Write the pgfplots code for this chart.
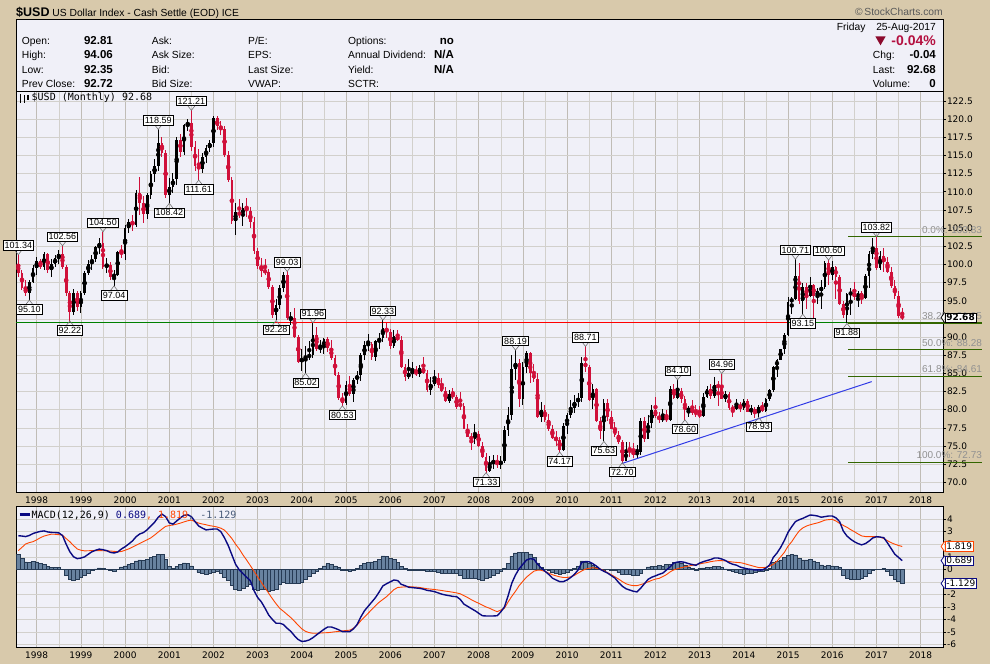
\documentclass[border=0pt]{standalone}
\usepackage{pgfplots}
\pgfplotsset{compat=1.18}
\usepackage{pgfplotstable}
\usepackage{fontspec}
\setmainfont{Liberation Sans}
\newfontfamily\dvs{DejaVu Sans}
\newfontfamily\mono{DejaVu Sans Mono}
\definecolor{tanbg}{RGB}{216,201,171}
\definecolor{plotbg}{RGB}{240,240,248}
\definecolor{gridc}{RGB}{210,208,204}
\definecolor{gridy}{RGB}{192,188,182}
\definecolor{cred}{RGB}{208,16,58}
\definecolor{dcrim}{RGB}{140,10,45}
\definecolor{pcrim}{RGB}{180,16,64}
\definecolor{fibg}{RGB}{51,102,0}
\definecolor{hgreen}{RGB}{0,128,0}
\definecolor{macdc}{RGB}{10,10,130}
\definecolor{sigc}{RGB}{255,69,0}
\definecolor{histf}{RGB}{104,130,160}
\definecolor{histd}{RGB}{38,58,84}
\definecolor{tline}{RGB}{50,60,230}
\definecolor{fibtext}{RGB}{145,145,145}
\definecolor{legslate}{RGB}{70,90,120}

\pgfplotstableread{
i o h l c m s
0 100.1 101.34 98.3 98.8 2.68 1.49
1 98.8 99.3 96.5 96.8 2.65 1.75
2 96.8 97.8 95.6 96.0 2.61 2.02
3 96.0 97.9 95.10 97.6 2.70 2.13
4 97.6 99.9 97.4 99.5 2.85 2.20
5 99.5 101.0 98.6 100.5 2.95 2.35
6 100.5 100.7 99.3 99.7 3.02 2.52
7 99.7 101.7 99.2 101.4 3.06 2.65
8 101.4 101.6 98.8 99.2 2.98 2.73
9 99.2 100.8 98.2 100.0 2.94 2.80
10 100.0 101.3 99.6 100.9 2.93 2.79
11 100.9 102.0 100.0 101.4 2.90 2.76
12 101.4 102.56 99.4 99.7 2.70 2.72
13 99.7 99.9 95.6 96.0 2.00 2.45
14 96.0 96.3 92.22 93.5 1.40 2.20
15 93.5 96.6 93.0 96.1 1.00 1.90
16 96.1 96.4 93.6 94.2 0.85 1.62
17 94.2 96.3 93.3 96.0 0.90 1.52
18 96.0 99.1 95.8 98.8 0.99 1.47
19 98.8 100.6 98.5 100.1 1.20 1.48
20 100.1 101.3 99.3 100.8 1.40 1.49
21 100.8 102.6 100.4 102.4 1.52 1.49
22 102.4 103.6 101.4 102.9 1.61 1.49
23 102.9 104.50 99.4 99.7 1.56 1.48
24 99.7 100.9 98.8 99.9 1.49 1.47
25 99.9 100.3 97.8 98.3 1.35 1.46
26 98.3 99.2 97.04 98.6 1.30 1.43
27 98.6 101.9 98.4 101.7 1.38 1.40
28 101.7 102.7 100.9 101.5 1.62 1.42
29 101.5 105.4 100.6 105.0 1.80 1.52
30 105.0 106.3 104.3 105.9 2.02 1.63
31 105.9 106.8 104.6 105.4 2.26 1.77
32 105.4 110.2 105.2 109.9 2.60 1.92
33 109.9 112.1 106.8 108.4 2.82 2.07
34 108.4 109.4 105.7 106.9 2.93 2.21
35 106.9 109.8 106.2 109.5 3.15 2.36
36 109.5 112.8 109.0 112.5 3.45 2.51
37 112.5 114.5 111.4 113.5 3.75 2.73
38 113.5 118.59 112.9 116.7 4.15 2.97
39 116.7 117.6 114.8 115.3 4.40 3.20
40 115.3 115.8 109.2 109.6 4.20 3.42
41 109.6 111.9 108.42 110.6 3.70 3.49
42 110.6 112.6 109.9 111.8 3.60 3.53
43 111.8 117.5 110.9 117.1 3.85 3.60
44 117.1 117.9 114.8 115.5 4.10 3.68
45 115.5 119.4 115.0 119.2 4.30 3.78
46 119.2 120.0 118.4 119.5 4.35 3.87
47 119.5 121.21 115.6 116.2 4.20 3.92
48 116.2 117.0 112.9 113.5 3.80 3.80
49 113.5 115.9 111.61 113.2 3.45 3.68
50 113.2 115.3 112.6 114.8 3.28 3.61
51 114.8 116.5 114.0 116.0 3.14 3.55
52 116.0 117.2 115.5 116.7 3.18 3.48
53 116.7 120.5 116.2 120.1 3.21 3.43
54 120.1 120.4 118.5 119.0 3.21 3.37
55 119.0 119.7 117.8 118.7 3.00 3.28
56 118.7 119.0 114.8 115.1 2.50 3.12
57 115.1 115.6 111.3 111.6 1.90 2.80
58 111.6 112.0 105.5 106.0 1.15 2.45
59 106.0 108.5 104.0 107.2 0.40 2.00
60 107.2 109.0 106.4 106.8 -0.05 1.62
61 106.8 108.4 105.3 107.8 -0.35 1.15
62 107.8 109.1 106.5 107.4 -0.64 0.74
63 107.4 107.9 105.0 105.8 -0.90 0.30
64 105.8 106.5 101.4 101.9 -1.70 -0.15
65 101.9 102.3 99.4 99.8 -2.25 -0.60
66 99.8 100.9 98.3 99.1 -2.60 -1.05
67 99.1 100.8 98.5 99.0 -3.10 -1.48
68 99.0 99.4 96.6 96.9 -3.65 -1.92
69 96.9 97.2 92.6 93.0 -4.00 -2.35
70 93.0 95.2 92.28 94.4 -4.30 -2.75
71 94.4 97.2 93.8 96.7 -4.30 -3.11
72 96.7 98.9 96.2 98.6 -4.40 -3.35
73 98.6 99.03 92.3 92.6 -4.70 -3.60
74 92.4 93.5 91.7 92.6 -4.95 -3.85
75 92.6 94.0 89.9 90.0 -5.30 -4.15
76 90.0 90.3 86.4 86.6 -5.60 -4.45
77 86.6 88.3 85.3 87.1 -5.75 -4.75
78 87.1 88.8 85.02 87.3 -5.72 -4.95
79 87.3 89.5 86.9 87.5 -5.63 -5.05
80 87.5 91.96 87.1 90.3 -5.45 -5.10
81 90.3 91.4 88.1 88.4 -5.22 -5.10
82 88.4 89.6 87.8 88.6 -5.00 -5.08
83 88.6 89.9 87.6 89.7 -4.78 -5.06
84 89.7 90.0 87.9 88.5 -4.60 -5.05
85 88.5 89.6 86.9 87.1 -4.60 -5.02
86 87.1 87.5 84.6 84.8 -4.70 -4.98
87 84.8 85.2 81.3 81.6 -4.82 -4.95
88 81.6 82.3 80.53 80.9 -4.97 -4.91
89 80.9 83.9 80.6 83.4 -4.97 -4.88
90 83.4 84.6 81.9 82.2 -4.97 -4.85
91 82.2 84.4 81.0 84.1 -4.75 -4.70
92 84.1 85.3 83.5 84.8 -4.40 -4.45
93 84.8 87.8 84.0 87.5 -3.80 -4.10
94 87.5 89.4 86.9 88.9 -3.30 -3.80
95 88.9 90.4 88.1 89.1 -2.95 -3.50
96 89.1 89.3 86.8 87.3 -2.60 -3.20
97 87.3 89.6 86.7 89.4 -2.25 -2.90
98 89.4 90.6 88.4 89.8 -1.80 -2.62
99 89.8 92.33 89.3 91.3 -1.32 -2.40
100 91.3 92.0 89.8 90.7 -1.15 -2.18
101 90.7 91.1 88.4 88.7 -1.00 -1.90
102 88.7 91.0 88.5 90.1 -0.85 -1.62
103 90.1 91.0 89.4 89.6 -0.90 -1.45
104 89.6 90.1 85.8 85.9 -1.20 -1.42
105 85.9 86.3 84.0 84.5 -1.30 -1.40
106 84.5 87.0 84.2 85.0 -1.43 -1.38
107 85.0 86.5 84.4 85.3 -1.46 -1.40
108 85.3 86.0 84.6 84.9 -1.49 -1.42
109 84.9 86.1 84.5 85.7 -1.52 -1.45
110 85.7 87.2 84.9 85.1 -1.58 -1.50
111 85.1 85.5 82.5 82.7 -1.68 -1.55
112 82.7 84.5 82.0 83.6 -1.72 -1.58
113 83.6 85.5 83.2 84.3 -1.78 -1.61
114 84.3 85.1 83.0 83.4 -1.88 -1.65
115 83.4 84.4 82.4 82.6 -1.98 -1.69
116 82.6 83.1 81.0 81.2 -2.05 -1.74
117 81.2 82.7 80.9 82.2 -2.10 -1.78
118 82.2 83.0 81.5 81.8 -2.16 -1.83
119 81.8 82.0 80.1 80.4 -2.18 -1.88
120 80.8 82.5 80.0 80.5 -2.40 -1.95
121 80.5 80.9 77.3 77.4 -2.78 -2.10
122 77.4 78.0 76.2 76.3 -2.95 -2.25
123 76.3 76.8 74.5 75.9 -3.13 -2.42
124 75.9 78.0 75.3 76.7 -3.30 -2.57
125 76.7 77.0 74.9 75.0 -3.50 -2.71
126 75.0 75.5 73.4 73.5 -3.70 -2.85
127 73.5 74.0 71.33 71.6 -3.72 -3.00
128 71.6 73.6 71.4 72.6 -3.72 -3.11
129 72.6 73.8 71.8 72.9 -3.72 -3.25
130 72.9 73.7 71.9 72.4 -3.70 -3.38
131 72.4 73.6 71.8 72.9 -3.40 -3.25
132 72.9 77.7 72.6 77.2 -3.00 -3.10
133 77.2 80.4 76.4 79.3 -2.10 -2.60
134 79.3 87.5 78.6 85.6 -1.10 -2.15
135 85.6 88.19 84.1 86.4 -0.45 -1.75
136 86.4 87.0 80.4 81.4 0.05 -1.30
137 81.4 86.5 80.7 85.9 0.40 -0.95
138 85.9 88.1 85.0 87.8 0.74 -0.62
139 87.8 88.0 83.7 85.0 0.85 -0.38
140 85.0 86.3 83.8 84.2 0.80 -0.15
141 84.2 85.0 78.9 79.0 0.40 -0.07
142 79.0 81.0 78.3 79.9 0.10 -0.08
143 79.9 80.6 78.3 78.6 -0.15 -0.17
144 78.6 79.4 77.1 77.3 -0.40 -0.30
145 77.3 77.9 75.9 76.1 -0.70 -0.43
146 76.1 77.0 75.0 75.8 -0.85 -0.52
147 75.8 76.3 74.17 74.5 -0.98 -0.60
148 74.5 78.1 74.3 77.7 -0.98 -0.65
149 77.7 79.5 76.6 79.3 -0.85 -0.65
150 79.3 81.3 78.9 80.2 -0.65 -0.60
151 80.2 82.0 79.5 81.1 -0.40 -0.48
152 81.1 82.3 80.3 81.6 -0.05 -0.30
153 81.6 87.2 81.1 86.4 0.55 -0.13
154 86.4 88.71 85.2 85.9 0.62 0.02
155 85.9 86.1 81.2 81.3 0.60 0.08
156 81.3 83.6 80.1 82.9 0.45 0.13
157 82.9 83.0 78.3 78.4 0.25 0.08
158 78.4 79.0 75.9 77.0 0.00 0.03
159 77.0 81.4 75.63 80.9 -0.16 -0.10
160 80.9 81.4 78.5 79.0 -0.30 -0.27
161 79.0 79.8 77.3 77.4 -0.50 -0.43
162 77.4 78.3 76.3 76.5 -0.70 -0.60
163 76.5 77.1 75.3 75.6 -1.05 -0.78
164 75.6 75.8 72.70 72.9 -1.35 -0.98
165 72.9 75.6 72.9 74.4 -1.55 -1.15
166 74.4 75.6 73.5 74.3 -1.65 -1.25
167 74.3 75.4 73.4 73.8 -1.75 -1.30
168 73.8 75.2 73.4 74.2 -1.80 -1.30
169 74.2 78.9 73.8 78.4 -1.50 -1.22
170 78.4 79.0 75.5 76.0 -1.15 -1.12
171 76.0 79.3 75.9 78.1 -0.80 -1.00
172 78.1 80.7 77.5 80.0 -0.63 -0.88
173 80.0 81.8 78.9 79.1 -0.52 -0.78
174 79.1 79.7 78.1 78.6 -0.40 -0.72
175 78.6 80.1 78.3 79.0 -0.30 -0.58
176 79.0 79.9 78.3 78.6 -0.05 -0.42
177 78.6 83.3 78.5 82.9 0.20 -0.20
178 82.9 83.6 81.5 81.6 0.50 -0.04
179 81.6 84.10 81.4 82.6 0.58 0.05
180 82.6 83.0 80.9 81.4 0.60 0.13
181 81.4 81.9 78.60 79.9 0.55 0.20
182 79.8 80.5 79.0 80.2 0.45 0.26
183 80.2 81.3 79.3 79.6 0.38 0.32
184 79.6 80.6 79.0 79.5 0.32 0.38
185 79.5 80.5 78.9 79.1 0.50 0.43
186 79.1 82.3 79.0 81.8 0.61 0.49
187 81.8 83.2 81.6 82.9 0.70 0.54
188 82.9 83.6 81.4 81.9 0.78 0.61
189 81.9 84.5 81.6 83.4 0.90 0.66
190 83.4 84.0 80.5 83.1 0.90 0.69
191 83.1 84.96 81.4 81.5 0.82 0.69
192 81.5 82.6 81.1 82.1 0.70 0.67
193 82.1 82.4 79.9 80.2 0.52 0.62
194 80.2 80.7 79.0 80.1 0.40 0.58
195 80.1 81.5 79.9 80.7 0.33 0.55
196 80.7 81.0 79.7 80.2 0.18 0.53
197 80.2 81.5 79.9 81.2 0.10 0.47
198 81.2 81.4 79.7 79.7 0.03 0.38
199 79.7 80.6 79.3 80.1 0.00 0.30
200 80.1 80.4 78.9 79.5 -0.05 0.22
201 79.5 80.6 78.93 80.4 -0.05 0.14
202 80.4 81.0 79.7 79.8 -0.05 0.13
203 79.8 81.6 79.7 81.5 0.10 0.16
204 81.5 82.8 81.2 82.7 0.35 0.25
205 82.7 86.0 82.5 85.9 0.95 0.40
206 85.9 87.0 84.5 86.9 1.30 0.65
207 86.9 88.4 86.8 88.4 1.75 1.00
208 88.4 90.5 87.6 90.3 2.30 1.35
209 90.3 95.5 90.2 94.8 2.95 1.85
210 94.8 95.5 93.2 95.3 3.40 2.20
211 95.3 100.71 95.1 98.4 3.80 2.65
212 98.4 100.2 94.6 94.9 3.95 3.05
213 94.9 97.5 93.15 96.9 4.06 3.30
214 96.9 97.5 93.8 95.6 4.20 3.45
215 95.6 98.3 95.5 97.2 4.33 3.55
216 97.2 97.3 92.6 95.6 4.30 3.63
217 95.6 96.7 94.6 96.3 4.25 3.70
218 96.3 97.9 93.8 96.9 4.15 3.80
219 96.9 100.5 96.6 100.2 4.20 3.92
220 100.2 100.60 97.2 98.6 4.25 3.96
221 98.6 100.5 97.9 99.6 4.25 3.98
222 99.6 99.8 95.2 98.2 4.10 3.85
223 98.2 98.5 94.4 94.6 3.80 3.66
224 94.6 95.0 92.6 93.1 3.05 3.50
225 93.1 96.0 91.88 95.9 2.65 3.35
226 95.9 96.7 93.0 96.1 2.40 3.16
227 96.1 97.6 95.1 95.5 2.20 3.00
228 95.5 96.4 94.1 96.0 2.05 2.82
229 96.0 96.3 94.5 95.4 1.95 2.66
230 95.4 98.7 95.2 98.4 2.05 2.61
231 98.4 101.9 96.8 101.5 2.25 2.60
232 101.5 103.6 100.8 102.2 2.50 2.60
233 102.2 103.82 99.2 99.5 2.60 2.60
234 99.5 101.8 99.2 101.1 2.57 2.57
235 101.1 102.3 98.9 100.3 2.52 2.45
236 100.3 101.0 98.8 99.0 2.10 2.28
237 99.0 99.6 96.8 97.0 1.65 2.12
238 97.0 97.8 95.2 95.6 1.20 2.00
239 95.6 96.3 92.6 92.9 0.95 1.90
240 92.9 94.06 92.35 92.68 0.689 1.819
}\data

\newcommand{\tickf}{\dvs\fontsize{9}{10}\selectfont}
\newcommand{\hfont}{\fontsize{10.3}{12}\selectfont}
\newcommand{\vfont}{\fontsize{11.5}{13}\selectfont\bfseries}
\newcommand{\tx}[3]{\node[anchor=base west, inner sep=0pt] at (#1pt,-#2pt) {#3};}
\newcommand{\txr}[3]{\node[anchor=base east, inner sep=0pt] at (#1pt,-#2pt) {#3};}

\tikzset{
  clab/.style={draw=black, fill=white, line width=0.6pt, inner xsep=1.5pt, inner ysep=1.2pt,
     text height=6.6pt, text depth=0.3pt, font=\fontsize{9}{10}\selectfont},
  chev/.style={draw=black!55, line width=0.6pt},
  fibt/.style={text=fibtext, inner sep=0pt, font=\fontsize{10}{11}\selectfont, anchor=base east},
  vbox/.style={fill=white, line width=0.8pt, inner xsep=1.3pt, inner ysep=1.2pt, text height=6.6pt, text depth=0.3pt, anchor=west, font=\tickf}
}
\newcommand{\hilab}[3]{%
  \draw[chev] ([xshift=-3.5pt,yshift=4.5pt]axis cs:#1,#2) -- (axis cs:#1,#2) -- ([xshift=3.5pt,yshift=4.5pt]axis cs:#1,#2);
  \node[clab, anchor=south, yshift=4.3pt] at (axis cs:#1,#2) {#3};}
\newcommand{\lolab}[3]{%
  \draw[chev] ([xshift=-3.5pt,yshift=-4.5pt]axis cs:#1,#2) -- (axis cs:#1,#2) -- ([xshift=3.5pt,yshift=-4.5pt]axis cs:#1,#2);
  \node[clab, anchor=north, yshift=-4.3pt] at (axis cs:#1,#2) {#3};}
\newcommand{\vlab}[4]{% x y color text
  \node[vbox, draw=#3] (vb) at (axis cs:#1,#2) {#4};
  \filldraw[fill=white, draw=#3, line width=0.8pt] (vb.north west) -- ([xshift=-3.5pt]vb.west) -- (vb.south west);}

\pgfplotsset{
  chartaxis/.style={
    width=927pt, scale only axis,
    xmin=-0.62, xmax=251.07,
    clip=false,
    axis background/.style={fill=plotbg},
    axis line style={black, line width=0.8pt},
    xtick={5,17,...,245},
    xticklabels={1998,1999,2000,2001,2002,2003,2004,2005,2006,2007,2008,2009,2010,2011,2012,2013,2014,2015,2016,2017,2018},
    minor xtick={11,23,...,239},
    grid=both,
    major x grid style={gridy, line width=0.6pt},
    minor x grid style={gridc, line width=0.5pt},
    major y grid style={gridc, line width=0.5pt},
    xtick style={draw=none}, minor tick length=0pt,
    ytick pos=right, yticklabel pos=right,
    tick align=outside, major tick length=3pt,
    ytick style={black, line width=0.6pt},
    tick label style={font=\tickf},
    /pgf/number format/assume math mode=true,
    xticklabel style={anchor=center, yshift=-5pt},
  }
}

\begin{document}
\begin{tikzpicture}
\useasboundingbox (0pt,0pt) rectangle (990pt,-664pt);
\fill[tanbg] (0pt,0pt) rectangle (990pt,-664pt);
% header
\filldraw[fill=plotbg, draw=black, line width=0.8pt] (16pt,-19.3pt) rectangle (943pt,-91.5pt);
\tx{16}{16.8}{{\fontsize{12.5}{14}\selectfont\bfseries\$USD}\hfont\ US Dollar Index - Cash Settle (EOD) ICE}
\node[anchor=base east, inner sep=0pt, text=black!65] at (943pt,-15.8pt) {\hfont\textcopyright\,StockCharts.com};
\tx{21.7}{44.5}{\hfont Open:}
\tx{21.7}{58.8}{\hfont High:}
\tx{21.7}{73.1}{\hfont Low:}
\tx{21.7}{87.1}{\hfont Prev Close:}
\txr{113}{44.5}{\vfont 92.81}
\txr{113}{58.8}{\vfont 94.06}
\txr{113}{73.1}{\vfont 92.35}
\txr{113}{87.1}{\vfont 92.72}
\tx{151.7}{44.5}{\hfont Ask:}
\tx{151.7}{58.8}{\hfont Ask Size:}
\tx{151.7}{73.1}{\hfont Bid:}
\tx{151.7}{87.1}{\hfont Bid Size:}
\tx{248}{44.5}{\hfont P/E:}
\tx{248}{58.8}{\hfont EPS:}
\tx{248}{73.1}{\hfont Last Size:}
\tx{248}{87.1}{\hfont VWAP:}
\tx{348}{44.5}{\hfont Options:}
\tx{348}{58.8}{\hfont Annual Dividend:}
\tx{348}{73.1}{\hfont Yield:}
\tx{348}{87.1}{\hfont SCTR:}
\txr{454}{44.5}{\vfont no}
\txr{454}{58.8}{\vfont N/A}
\txr{454}{73.1}{\vfont N/A}
\tx{836.7}{30}{\hfont Friday}
\txr{936}{30}{\hfont 25-Aug-2017}
\fill[dcrim] (875.3pt,-36.3pt) -- (885.7pt,-36.3pt) -- (880.5pt,-45.3pt) -- cycle;
\node[anchor=base east, inner sep=0pt, text=pcrim] at (936pt,-45.6pt) {\fontsize{14}{16}\selectfont\bfseries -0.04\%};
\tx{872.7}{58.8}{\hfont Chg:}
\tx{872.7}{73.1}{\hfont Last:}
\tx{872.7}{87.1}{\hfont Volume:}
\txr{936}{58.8}{\vfont -0.04}
\txr{936}{73.1}{\vfont 92.68}
\txr{936}{87.1}{\vfont 0}

% ---------------- main price panel
\begin{axis}[chartaxis,
  at={(16pt,-492pt)}, anchor=south west,
  height=400.5pt,
  ymin=68.66, ymax=123.81,
  ytick={70,72.5,...,122.5},
  yticklabel style={/pgf/number format/fixed, /pgf/number format/fixed zerofill, /pgf/number format/precision=1, anchor=west, inner sep=0.8pt},
]
\addplot[hgreen, line width=1pt] coordinates {(-0.62,91.95) (251.07,91.95)};
\addplot[red, line width=1pt] coordinates {(69.7,91.95) (208.7,91.95)};
% wicks
\addplot[only marks, mark=none, black, error bars/.cd, y dir=both, y explicit, error mark=none,
  error bar style={line width=1pt, black}]
  table[x=i, y expr=(\thisrow{h}+\thisrow{l})/2, y error expr=(\thisrow{h}-\thisrow{l})/2,
  restrict expr to domain={\thisrow{c}-\thisrow{o}}{0:1000}] {\data};
\addplot[only marks, mark=none, cred, error bars/.cd, y dir=both, y explicit, error mark=none,
  error bar style={line width=1pt, cred}]
  table[x=i, y expr=(\thisrow{h}+\thisrow{l})/2, y error expr=(\thisrow{h}-\thisrow{l})/2,
  restrict expr to domain={\thisrow{c}-\thisrow{o}}{-1000:-0.001}] {\data};
% bodies
\addplot[only marks, mark=none, black, error bars/.cd, y dir=both, y explicit, error mark=none,
  error bar style={line width=2.7pt, black}]
  table[x=i, y expr=(\thisrow{o}+\thisrow{c})/2, y error expr={max(abs(\thisrow{c}-\thisrow{o})/2,0.07)},
  restrict expr to domain={\thisrow{c}-\thisrow{o}}{0:1000}] {\data};
\addplot[only marks, mark=none, cred, error bars/.cd, y dir=both, y explicit, error mark=none,
  error bar style={line width=2.7pt, cred}]
  table[x=i, y expr=(\thisrow{o}+\thisrow{c})/2, y error expr={max(abs(\thisrow{c}-\thisrow{o})/2,0.07)},
  restrict expr to domain={\thisrow{c}-\thisrow{o}}{-1000:-0.001}] {\data};
% trend line
\addplot[tline, line width=1pt] coordinates {(164,72.6) (231.7,83.86)};
% fibonacci lines
\addplot[fibg, line width=1pt] coordinates {(225.3,103.83) (261.7,103.83)};
\addplot[fibg, line width=1.6pt] coordinates {(225.3,91.95) (261.7,91.95)};
\addplot[fibg, line width=1pt] coordinates {(225.3,88.28) (261.7,88.28)};
\addplot[fibg, line width=1pt] coordinates {(225.3,84.61) (261.7,84.61)};
\addplot[fibg, line width=1pt] coordinates {(225.3,72.73) (261.7,72.73)};
\node[fibt, yshift=3.5pt] at (axis cs:261.7,103.83) {0.0\%: 103.83};
\node[fibt, yshift=3.5pt] at (axis cs:261.7,88.28) {50.0\%: 88.28};
\node[fibt, yshift=3.5pt] at (axis cs:261.7,84.61) {61.8\%: 84.61};
\node[fibt, yshift=3.5pt] at (axis cs:261.7,72.73) {100.0\%: 72.73};
\node[fibt, yshift=3.5pt] at (axis cs:261.7,91.95) {38.2\%: 91.95};
\vlab{251.5}{92.68}{black}{\bfseries 92.68}
% swing labels
\hilab{0}{101.34}{101.34}
\lolab{3}{95.10}{95.10}
\hilab{12}{102.56}{102.56}
\lolab{14}{92.22}{92.22}
\hilab{23}{104.50}{104.50}
\lolab{26}{97.04}{97.04}
\hilab{38}{118.59}{118.59}
\lolab{41}{108.42}{108.42}
\hilab{47}{121.21}{121.21}
\lolab{49}{111.61}{111.61}
\hilab{73}{99.03}{99.03}
\lolab{70}{92.28}{92.28}
\hilab{80}{91.96}{91.96}
\lolab{78}{85.02}{85.02}
\lolab{88}{80.53}{80.53}
\hilab{99}{92.33}{92.33}
\lolab{127}{71.33}{71.33}
\hilab{135}{88.19}{88.19}
\lolab{147}{74.17}{74.17}
\hilab{154}{88.71}{88.71}
\lolab{159}{75.63}{75.63}
\lolab{164}{72.70}{72.70}
\hilab{179}{84.10}{84.10}
\lolab{181}{78.60}{78.60}
\hilab{191}{84.96}{84.96}
\lolab{201}{78.93}{78.93}
\hilab{211}{100.71}{100.71}
\lolab{213}{93.15}{93.15}
\hilab{220}{100.60}{100.60}
\lolab{225}{91.88}{91.88}
\hilab{233}{103.82}{103.82}
\end{axis}
% legend of price panel
\fill[black] (19.5pt,-95.5pt) rectangle (21.3pt,-101.5pt);
\draw[black, line width=0.5pt] (20.4pt,-93.8pt) -- (20.4pt,-103pt);
\fill[black] (23.6pt,-97pt) rectangle (25.4pt,-101pt);
\draw[black, line width=0.5pt] (24.5pt,-95.3pt) -- (24.5pt,-102.5pt);
\fill[black] (27.2pt,-95pt) rectangle (28.6pt,-99.5pt);
\tx{31.5}{100.6}{\mono\fontsize{10}{12}\selectfont\$USD (Monthly) 92.68}

% ---------------- MACD panel
\begin{axis}[chartaxis,
  at={(16pt,-647.7pt)}, anchor=south west,
  height=141pt,
  ymin=-6.25, ymax=4.99,
  ytick={-6,-5,...,4},
  yticklabel style={anchor=west, inner sep=0.8pt},
]
\addplot[ybar, bar width=1, bar shift=0pt, fill=histf, draw=histd, line width=0.5pt]
  table[x=i, y expr=\thisrow{m}-\thisrow{s}] {\data};
\addplot[sigc, line width=0.9pt, mark=none] table[x=i, y=s] {\data};
\addplot[macdc, line width=1.4pt, mark=none] table[x=i, y=m] {\data};
\vlab{251.5}{1.819}{sigc}{1.819}
\vlab{251.5}{0.689}{macdc}{0.689}
\vlab{251.5}{-1.129}{macdc}{-1.129}
\end{axis}
\draw[macdc, line width=2.3pt] (19.5pt,-514.5pt) -- (30pt,-514.5pt);
\tx{31.5}{518.2}{\mono\fontsize{10}{12}\selectfont MACD(12,26,9) \textcolor{macdc}{0.689}\textcolor{sigc}{, 1.819}\textcolor{legslate}{, -1.129}}
\end{tikzpicture}
\end{document}
